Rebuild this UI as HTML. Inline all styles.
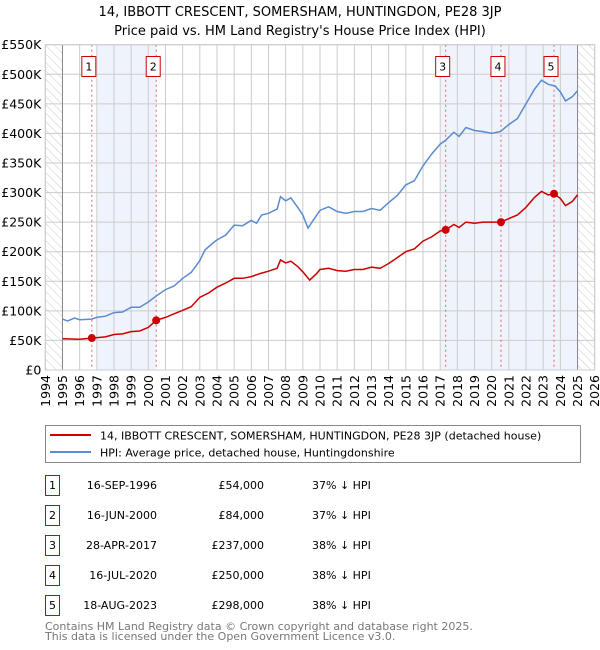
<!DOCTYPE html>
<html><head><meta charset="utf-8"><style>
body{margin:0;background:#fff;}
svg{display:block;font-family:"DejaVu Sans","Liberation Sans",sans-serif;}
</style></head><body>
<svg id="chart" width="600" height="650" viewBox="0 0 600 650">
<defs>
<pattern id="hatch" width="6" height="6" patternUnits="userSpaceOnUse" patternTransform="rotate(-45)">
<line x1="0" y1="0" x2="0" y2="6" stroke="#ccc" stroke-width="1"/>
</pattern>
</defs>
<text x="300" y="16" text-anchor="middle" font-size="13" fill="#000">14, IBBOTT CRESCENT, SOMERSHAM, HUNTINGDON, PE28 3JP</text>
<text x="300" y="35" text-anchor="middle" font-size="13" fill="#000">Price paid vs. HM Land Registry's House Price Index (HPI)</text>
<g id="plot"></g>
<g id="legend">
<rect x="45.5" y="425.5" width="535" height="37" fill="#fff" stroke="#888"/>
<line x1="50" y1="435" x2="91" y2="435" stroke="#cc0000" stroke-width="2"/>
<text x="100" y="439.5" font-size="11">14, IBBOTT CRESCENT, SOMERSHAM, HUNTINGDON, PE28 3JP (detached house)</text>
<line x1="50" y1="452" x2="91" y2="452" stroke="#5b8bd0" stroke-width="2"/>
<text x="100" y="456.5" font-size="11">HPI: Average price, detached house, Huntingdonshire</text>
</g>
<g id="table" font-size="11"></g>
<text x="45" y="630" font-size="11" fill="#777">Contains HM Land Registry data © Crown copyright and database right 2025.</text>
<text x="45" y="640" font-size="11" fill="#777">This data is licensed under the Open Government Licence v3.0.</text>
</svg>
<script>
const hpiYears=[1995,1995.3,1995.7,1996,1996.7,1997,1997.5,1998,1998.5,1999,1999.5,2000,2000.5,2001,2001.5,2002,2002.5,2003,2003.3,2003.7,2004,2004.5,2005,2005.5,2006,2006.3,2006.6,2007,2007.5,2007.7,2008,2008.3,2008.7,2009,2009.3,2009.6,2010,2010.5,2011,2011.5,2012,2012.5,2013,2013.5,2014,2014.5,2015,2015.5,2016,2016.5,2017,2017.3,2017.8,2018.1,2018.5,2019,2019.5,2020,2020.5,2021,2021.5,2022,2022.5,2022.9,2023.3,2023.7,2024,2024.3,2024.7,2025];
const hpiValues=[86,83,88,85,86,89,91,97,98,106,106,115,126,136,142,155,165,185,203,213,220,228,245,244,253,248,262,265,272,293,286,291,275,262,240,253,270,276,268,265,268,268,273,270,283,295,313,320,345,365,382,388,402,395,410,405,403,400,403,415,425,450,475,490,483,480,470,455,462,472];
const priceYears=[1995,1996,1996.71,1997.5,1998,1998.5,1999,1999.5,2000,2000.46,2001,2001.5,2002,2002.5,2003,2003.5,2004,2004.5,2005,2005.5,2006,2006.5,2007,2007.5,2007.7,2008,2008.3,2008.7,2009,2009.4,2009.8,2010,2010.5,2011,2011.5,2012,2012.5,2013,2013.5,2014,2014.5,2015,2015.5,2016,2016.5,2017,2017.32,2017.8,2018.1,2018.5,2019,2019.5,2020,2020.54,2021,2021.5,2022,2022.5,2022.9,2023.3,2023.63,2024,2024.3,2024.7,2025];
const priceValues=[53,52,54,56,60,61,65,66,72,84,89,95,101,107,123,130,140,147,155,155,158,163,167,172,186,181,184,175,166,152,163,170,172,168,167,170,170,174,172,180,190,200,205,218,225,235,237,246,241,250,248,250,250,250,256,262,275,292,302,296,298,290,278,285,296];
const saleLabels=["1","2","3","4","5"];
const saleYears=[1996.71,2000.46,2017.32,2020.54,2023.63];
const saleValues=[54,84,237,250,298];
const saleDates=["16-SEP-1996","16-JUN-2000","28-APR-2017","16-JUL-2020","18-AUG-2023"];
const salePrices=["£54,000","£84,000","£237,000","£250,000","£298,000"];
const salePct=["37% ↓ HPI","37% ↓ HPI","38% ↓ HPI","38% ↓ HPI","38% ↓ HPI"];
const yTicks=[0,50,100,150,200,250,300,350,400,450,500,550];
const yTickLabels=["£0","£50K","£100K","£150K","£200K","£250K","£300K","£350K","£400K","£450K","£500K","£550K"];
const xTicks=[1994,1995,1996,1997,1998,1999,2000,2001,2002,2003,2004,2005,2006,2007,2008,2009,2010,2011,2012,2013,2014,2015,2016,2017,2018,2019,2020,2021,2022,2023,2024,2025,2026];

const NS="http://www.w3.org/2000/svg";
const L=45.3,R=594.7,T=44.7,B=370;
function xs(y){return L+(y-1994)/(2026-1994)*(R-L);}
function ys(v){return B-v/550*(B-T);}
function mk(tag,attrs,parent){const e=document.createElementNS(NS,tag);for(const k in attrs)e.setAttribute(k,attrs[k]);parent.appendChild(e);return e;}
const plot=document.getElementById('plot');
let r=mk('rect',{x:xs(1997),y:T,width:xs(2000.46)-xs(1997),height:B-T,fill:'#eef3fc'},plot);


r=mk('rect',{x:xs(2017),y:T,width:xs(2025)-xs(2017),height:B-T,fill:'#eef3fc'},plot);


r=mk('rect',{x:xs(1994),y:T,width:xs(1995)-xs(1994),height:B-T,fill:'url(#hatch)'},plot);


r=mk('rect',{x:xs(2025),y:T,width:xs(2026)-xs(2025),height:B-T,fill:'url(#hatch)'},plot);


yTicks.forEach((v,i)=>{
 const g=mk('line',{x1:L,x2:R,y1:ys(v),y2:ys(v),stroke:'#ccc','stroke-width':1},plot);
 
 
 const t=mk('text',{x:L-4,y:ys(v)+4.5,'text-anchor':'end','font-size':12.5},plot);
 t.textContent=yTickLabels[i];
 
 
});
xTicks.forEach(y=>{
 const g=mk('line',{x1:xs(y),x2:xs(y),y1:T,y2:B,stroke:'#ccc','stroke-width':1},plot);
 
 
 const t=mk('text',{x:0,y:0,'text-anchor':'end','font-size':12.5,transform:`translate(${xs(y)+4.5},${B+5}) rotate(-90)`},plot);
 t.textContent=String(y);
 
 
});
let a=mk('line',{x1:xs(1995),x2:xs(1995),y1:T,y2:B,stroke:'#888','stroke-width':1},plot);


a=mk('line',{x1:xs(2025),x2:xs(2025),y1:T,y2:B,stroke:'#888','stroke-width':1},plot);


saleYears.forEach((y,i)=>{
 const l=mk('line',{x1:xs(y),x2:xs(y),y1:T,y2:B,stroke:'#e06666','stroke-width':1,'stroke-dasharray':'2,3'},plot);
 
 
 const b=mk('rect',{x:xs(y)-10,y:56.5,width:14,height:20,fill:'#fff',stroke:'#cc0000'},plot);
 
 
 const t=mk('text',{x:xs(y)-3,y:70.5,'text-anchor':'middle','font-size':11},plot);
 t.textContent=saleLabels[i];
 
 
});
function path(xsA,vs){return xsA.map((y,i)=>(i?'L':'M')+xs(y).toFixed(1)+','+ys(vs[i]).toFixed(1)).join('');}
const hp=mk('path',{d:path(hpiYears,hpiValues),fill:'none',stroke:'#5b8bd0','stroke-width':1.5},plot);


const pp=mk('path',{d:path(priceYears,priceValues),fill:'none',stroke:'#cc0000','stroke-width':1.5},plot);


saleYears.forEach((y,i)=>{
 const c=mk('circle',{cx:xs(y),cy:ys(saleValues[i]),r:4,fill:'#cc0000'},plot);
 
 
});
const fr=mk('rect',{x:L,y:T,width:R-L,height:B-T,fill:'none',stroke:'#ccc'},plot);


const tb=document.getElementById('table');
saleLabels.forEach((s,i)=>{
 const top=475+i*30;
 const b=mk('rect',{x:45.5,y:top+0.5,width:14,height:20,fill:'#fff',stroke:'#cc0000'},tb);
 
 
 let t=mk('text',{x:52.5,y:top+14,'text-anchor':'middle'},tb);
 t.textContent=s;
 
 
 t=mk('text',{x:157,y:top+14,'text-anchor':'end'},tb);
 t.textContent=saleDates[i];
 
 
 t=mk('text',{x:264,y:top+14,'text-anchor':'end'},tb);
 t.textContent=salePrices[i];
 
 
 t=mk('text',{x:312,y:top+14},tb);
 t.textContent=salePct[i];
 
 
});
</script>
</body></html>
